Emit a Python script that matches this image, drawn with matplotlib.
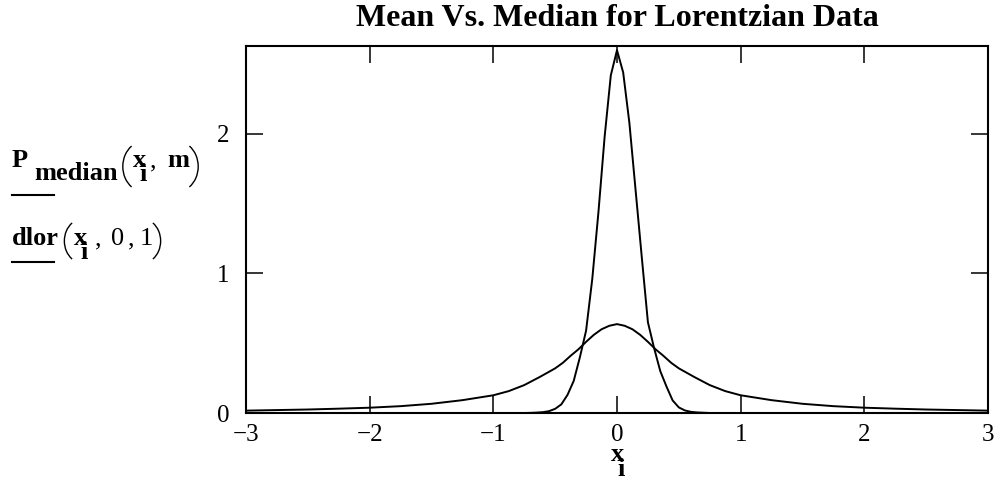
import numpy as np
import matplotlib
matplotlib.use("Agg")
import matplotlib.pyplot as plt
from matplotlib.lines import Line2D
from matplotlib.patches import Arc
from matplotlib.transforms import IdentityTransform

# ---- data ----
x_ticks = [-3, -2, -1, 0, 1, 2, 3]
y_ticks = [0, 1, 2]
x_tick_labels = ["\u22123", "\u22122", "\u22121", "0", "1", "2", "3"]

# broad Lorentzian curve dlor(x_i, 0, 1)
lor_x = [-3.0, -2.75, -2.5, -2.25, -2.0, -1.75, -1.5, -1.25, -1.0, -0.875, -0.75,
         -0.625, -0.5, -0.4375, -0.375, -0.3125, -0.25, -0.1875, -0.125, -0.0625, 0.0,
         0.0625, 0.125, 0.1875, 0.25, 0.3125, 0.375, 0.4375, 0.5, 0.625,
         0.75, 0.875, 1.0, 1.25, 1.5, 1.75, 2.0, 2.25, 2.5, 2.75, 3.0]
lor_y = [0.017, 0.021, 0.025, 0.031, 0.038, 0.049, 0.066, 0.092, 0.127, 0.157, 0.200,
         0.258, 0.320, 0.360, 0.410, 0.456, 0.510, 0.560, 0.600, 0.625, 0.637,
         0.625, 0.600, 0.560, 0.510, 0.456, 0.410, 0.360, 0.320, 0.258,
         0.200, 0.157, 0.127, 0.092, 0.066, 0.049, 0.038, 0.031, 0.025, 0.021, 0.017]

# narrow curve P_median(x_i, m)
med_x = [-3.0, -1.0, -0.8, -0.75, -0.7, -0.65, -0.6, -0.55, -0.5, -0.45, -0.4, -0.35,
         -0.3, -0.25, -0.2, -0.15, -0.1, -0.05, 0.0, 0.05, 0.1, 0.15, 0.2, 0.25, 0.3,
         0.35, 0.4, 0.45, 0.5, 0.55, 0.6, 0.65, 0.7, 0.75, 0.8, 1.0, 3.0]
med_y = [0.0, 0.0, 0.0, 0.0, 0.001, 0.003, 0.006, 0.013, 0.030, 0.062, 0.130, 0.230,
         0.400, 0.590, 0.960, 1.440, 1.980, 2.420, 2.600, 2.440, 2.080, 1.600, 1.120,
         0.650, 0.465, 0.300, 0.190, 0.090, 0.040, 0.018, 0.008, 0.004, 0.002, 0.0,
         0.0, 0.0, 0.0]

W, H = 1003, 503
fig = plt.figure(figsize=(W / 100, H / 100), dpi=100)
serif = "Liberation Serif"


def px(x, y):
    return x / W, 1 - y / H


ax = fig.add_axes([246 / W, 1 - 413 / H, 742 / W, 367 / H])
ax.plot(med_x, med_y, color="black", lw=1.4)
ax.plot(lor_x, lor_y, color="black", lw=1.4)
ax.set_xlim(-3, 3)
ax.set_ylim(0, 2.63)
ax.set_xticks(x_ticks)
ax.set_yticks(y_ticks)
ax.set_xticklabels(x_tick_labels)
ax.set_yticklabels([str(v) for v in y_ticks])
for lab in ax.get_xticklabels() + ax.get_yticklabels():
    lab.set_fontfamily(serif)
    lab.set_fontsize(18)
ax.tick_params(direction="in", length=12, width=1.1, top=True, right=True,
               color="black")
ax.tick_params(axis="x", pad=8)
ax.tick_params(axis="y", pad=12)
for s in ax.spines.values():
    s.set_linewidth(1.5)

# title
fig.text(*px(617, 19), "Mean Vs. Median for Lorentzian Data", ha="center",
         va="center", fontfamily=serif, fontweight="bold", fontsize=23)


def t(x, y, s, bold=True, size=19):
    fig.text(*px(x, y), s, fontfamily=serif, fontweight="bold" if bold else "normal",
             fontsize=size, va="baseline")


def paren(x_edge, y_top, y_bot, left=True):
    # thin, tall Mathcad-style parenthesis drawn in pixel coordinates
    h = y_bot - y_top
    r = h / (2 * np.sin(np.radians(58)))
    cy = H - (y_top + y_bot) / 2
    if left:
        cx = x_edge + r
        th1, th2 = 122, 238
    else:
        cx = x_edge - r
        th1, th2 = -58, 58
    arc = Arc((cx, cy), 2 * r * 0.85, 2 * r, theta1=th1, theta2=th2,
              transform=IdentityTransform(), color="black", lw=1.0)
    fig.add_artist(arc)


# y-axis label pieces (line 1)
b1 = 167
t(12, b1, "P")
t(34, b1 + 13, "median")
paren(119, 145, 188, left=True)
t(133, b1, "x")
t(139, b1 + 14, "i")
t(150, b1, ",", bold=False)
t(167, b1, "m")
paren(202, 145, 188, left=False)

# line 2
b2 = 245
t(12, b2, "dlor")
paren(61, 222, 260, left=True)
t(74, b2, "x")
t(80, b2 + 14, "i")
t(95, b2, ",", bold=False)
t(111, b2, "0", bold=False)
t(128, b2, ",", bold=False)
t(140, b2, "1", bold=False)
paren(164, 222, 260, left=False)

# legend-like underlines
for yy in (195, 262):
    fig.add_artist(Line2D([12 / W, 54 / W], [1 - yy / H, 1 - yy / H],
                          color="black", lw=1.5, transform=fig.transFigure))

# x label
t(611, 461, "x")
t(617, 476, "i")

fig.savefig("out.png", dpi=100)
